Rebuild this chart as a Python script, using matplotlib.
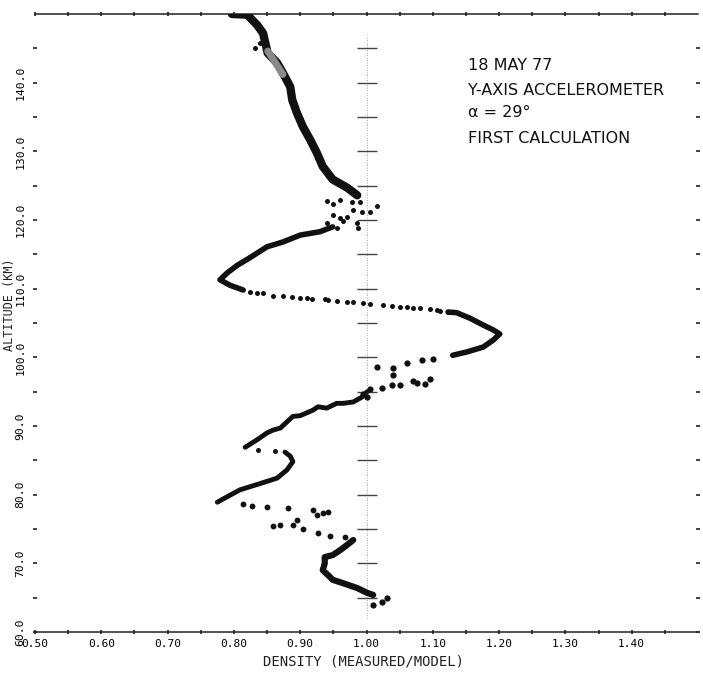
"""Density ratio (measured/model) vs altitude, 18 May 77, Y-axis accelerometer."""

import matplotlib
matplotlib.use("Agg")
import matplotlib.pyplot as plt
import numpy as np

# ---- data (density ratio, altitude km) ----
# dense upper trace, 150 -> 123.6 km
upper_x = [0.797, 0.820, 0.835, 0.844, 0.851, 0.865, 0.874, 0.885, 0.888, 0.895,
           0.904, 0.915, 0.925, 0.934, 0.949, 0.971, 0.986]
upper_y = [150.0, 149.9, 148.4, 147.2, 144.3, 142.9, 141.4, 139.4, 137.5, 135.6,
           133.6, 131.7, 129.8, 127.8, 125.9, 124.7, 123.6]

# grey smudge on the upper trace
smudge_x = [0.851, 0.862, 0.874]
smudge_y = [144.6, 143.0, 141.2]

# scattered cluster near 120 km (plus two stray dots near 145 km)
cluster1_x = [0.940, 0.949, 0.960, 0.978, 0.980, 0.990, 0.993, 1.005, 1.016, 0.949,
              0.960, 0.965, 0.971, 0.986, 0.987, 0.955, 0.940, 0.839, 0.832]
cluster1_y = [122.7, 122.3, 122.9, 122.6, 121.5, 122.6, 121.2, 121.2, 122.0, 120.8,
              120.3, 119.8, 120.5, 119.6, 118.8, 118.8, 119.6, 145.8, 145.0]

# descending trace to the 111 km minimum
mid_x = [0.949, 0.930, 0.900, 0.874, 0.850, 0.824, 0.805, 0.790, 0.779, 0.794, 0.814]
mid_y = [119.0, 118.3, 117.8, 116.8, 116.1, 114.5, 113.4, 112.3, 111.3, 110.5, 109.8]

# sparse dots across the 105-110 km crossing
cross_x = [0.824, 0.835, 0.844, 0.859, 0.874, 0.888, 0.900, 0.910, 0.918, 0.937,
           0.942, 0.955, 0.971, 0.980, 0.995, 1.005, 1.025, 1.038, 1.051, 1.061,
           1.070, 1.081, 1.096, 1.106, 1.111, 1.123]
cross_y = [109.5, 109.4, 109.4, 108.9, 108.9, 108.8, 108.6, 108.6, 108.5, 108.5,
           108.3, 108.2, 108.1, 108.1, 107.9, 107.8, 107.6, 107.5, 107.3, 107.3,
           107.2, 107.2, 107.0, 106.9, 106.7, 106.6]

# dense trace round the 103 km maximum
peak_x = [1.123, 1.136, 1.156, 1.176, 1.191, 1.201, 1.191, 1.176, 1.152, 1.130]
peak_y = [106.6, 106.5, 105.7, 104.7, 104.0, 103.4, 102.5, 101.5, 100.8, 100.3]

# scattered cluster 95-100 km
cluster2_x = [1.100, 1.084, 1.061, 1.040, 1.070, 1.076, 1.096, 1.088, 1.051, 1.038,
              1.023, 1.016, 1.040, 0.995, 1.005, 1.001]
cluster2_y = [99.8, 99.6, 99.2, 98.4, 96.6, 96.2, 96.9, 96.1, 96.0, 95.9,
              95.6, 98.6, 97.4, 94.6, 95.4, 94.2]

# descending trace to the 87 km minimum
low_x = [1.001, 0.993, 0.980, 0.965, 0.955, 0.940, 0.927, 0.919, 0.900, 0.889,
         0.880, 0.870, 0.859, 0.850, 0.835, 0.817]
low_y = [95.0, 94.2, 93.5, 93.3, 93.3, 92.6, 92.8, 92.3, 91.5, 91.4,
         90.6, 89.7, 89.4, 89.0, 88.0, 86.9]

bump_dots_x = [0.836, 0.862]
bump_dots_y = [86.5, 86.4]

# bump and descent to the 79 km minimum
bump_x = [0.877, 0.885, 0.889, 0.880, 0.865, 0.839, 0.809, 0.790, 0.775]
bump_y = [86.2, 85.6, 84.8, 83.6, 82.4, 81.6, 80.7, 79.7, 78.9]

# sparse dots 73-79 km
lowdots_x = [0.814, 0.827, 0.850, 0.882, 0.919, 0.925, 0.934, 0.942, 0.895, 0.889,
             0.870, 0.859, 0.904, 0.927, 0.945, 0.968]
lowdots_y = [78.6, 78.3, 78.2, 78.1, 77.8, 77.0, 77.3, 77.5, 76.3, 75.6,
             75.6, 75.4, 75.0, 74.4, 74.0, 73.8]

# bottom trace 73 -> 65 km
bottom_x = [0.980, 0.971, 0.960, 0.949, 0.937, 0.937, 0.934, 0.945, 0.949, 0.965,
            0.986, 1.001, 1.010]
bottom_y = [73.4, 72.7, 71.9, 71.2, 70.9, 70.0, 69.0, 68.0, 67.6, 67.1,
            66.4, 65.7, 65.4]

end_x = [1.010, 1.031, 1.023]
end_y = [64.0, 65.0, 64.4]

# reference marks on the ratio = 1.00 line
ref_alt = [65, 70, 75, 80, 85, 90, 95, 100, 105, 110, 115, 120, 125, 130, 135, 140, 145]

x_major = [0.50, 0.60, 0.70, 0.80, 0.90, 1.00, 1.10, 1.20, 1.30, 1.40]
y_major = [60, 70, 80, 90, 100, 110, 120, 130, 140]

notes = ["18 MAY 77", "Y-AXIS ACCELEROMETER", "α = 29°", "FIRST CALCULATION"]

INK = "#111111"
MONO = "DejaVu Sans Mono"

fig = plt.figure(figsize=(7.03, 6.77), dpi=100)
ax = fig.add_axes([35 / 703, 45 / 677, 663 / 703, 618 / 677])
ax.set_xlim(0.5, 1.5)
ax.set_ylim(60, 150)

# ratio = 1.00 reference line with its marks
ax.plot([1.0, 1.0], [62, 147], ls=(0, (1, 2)), lw=0.6, color="#888888", zorder=1)
ax.plot([1.0] * len(ref_alt), ref_alt, ls="none", marker="_", ms=14, mew=1.0,
        color="#444444", zorder=1)

line_kw = dict(color=INK, solid_capstyle="round", solid_joinstyle="round", zorder=3)
dot_kw = dict(ls="none", marker="o", ms=3.6, color=INK, mec="none", zorder=3)

ax.plot(upper_x, upper_y, lw=6, **line_kw)
ax.plot(smudge_x, smudge_y, lw=5, color="#8a8a8a", solid_capstyle="round", zorder=4)
ax.plot(cluster1_x, cluster1_y, **dot_kw)
ax.plot(mid_x, mid_y, lw=4, **line_kw)
ax.plot(cross_x, cross_y, **dot_kw)
ax.plot(peak_x, peak_y, lw=4, **line_kw)
ax.plot(cluster2_x, cluster2_y, **{**dot_kw, "ms": 4.5})
ax.plot(low_x, low_y, lw=3.5, **line_kw)
ax.plot(bump_dots_x, bump_dots_y, **dot_kw)
ax.plot(bump_x, bump_y, lw=3.5, **line_kw)
ax.plot(lowdots_x, lowdots_y, **{**dot_kw, "ms": 4.2})
ax.plot(bottom_x, bottom_y, lw=4.5, **line_kw)
ax.plot(end_x, end_y, **{**dot_kw, "ms": 4.5})

# axes frame: only top and bottom lines drawn
for side in ("left", "right"):
    ax.spines[side].set_visible(False)
for side in ("top", "bottom"):
    ax.spines[side].set_linewidth(1.1)
    ax.spines[side].set_color("#222222")

ax.set_xticks(x_major)
ax.set_xticklabels([f"{v:.2f}" for v in x_major], family=MONO, fontsize=8)
ax.set_xticks(np.arange(0.55, 1.51, 0.10), minor=True)
ax.set_yticks(y_major)
ax.set_yticklabels([f"{v:.1f}" for v in y_major], family=MONO, fontsize=8.2,
                   rotation=90, va="center")
ax.set_yticks(np.arange(65, 150, 10), minor=True)
ax.tick_params(which="both", direction="inout", length=3.5, width=1.2, color="#222222",
               top=True, right=True)
ax.tick_params(axis="x", which="both", pad=3.5)
ax.tick_params(axis="y", which="both", pad=5)

ax.text(0.496, -0.048, "DENSITY (MEASURED/MODEL)", transform=ax.transAxes,
        ha="center", va="center", family=MONO, fontsize=10, color="#222222")
ax.text(-0.038, 0.53, "ALTITUDE (KM)", transform=ax.transAxes, rotation=90,
        ha="center", va="center", family=MONO, fontsize=8.5, color="#222222")

for txt, yy in zip(notes, [0.917, 0.877, 0.840, 0.799]):
    ax.text(0.653, yy, txt, transform=ax.transAxes, ha="left", va="center",
            fontsize=11.5, color="#111111")

fig.savefig("out.png", dpi=100)
